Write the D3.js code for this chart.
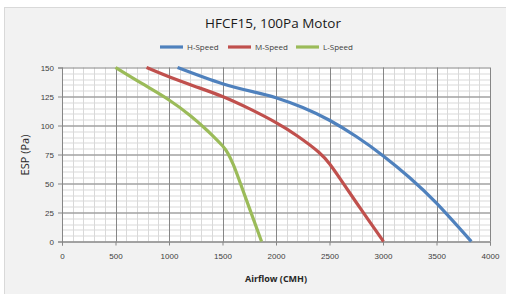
<!DOCTYPE html>
<html>
<head>
<meta charset="utf-8">
<title>HFCF15 Fan Curve</title>
<script src="https://cdn.jsdelivr.net/npm/d3@7"></script>
<style>
    body{ margin:0; background:#fff; font-family:"Open Sans", "Liberation Sans", sans-serif; }
    .minor line{ stroke:#d9d9d9; stroke-width:1; }
    .major line{ stroke:#868686; stroke-width:1; }
    .tick text{ font-size:8px; fill:#404040; }
</style>
</head>
<body>
<svg width="506" height="294"></svg>
<script>
// data (airflow CMH, ESP Pa)
var seriesNames = ["H-Speed", "M-Speed", "L-Speed"];
var seriesColors = ["#4f81bd", "#c0504d", "#9bbb59"];
var hSpeed = [[1080,150],[1500,136],[1800,128.8],[2000,124],[2250,115.5],[2500,104.5],[2750,90.5],[3000,74],[3250,55],[3500,33],[3825,0]];
var mSpeed = [[790,150],[1000,142],[1250,133.5],[1500,125],[1750,114.5],[2000,102.5],[2200,91],[2400,77],[2500,67],[2600,54],[2800,27],[3005,0]];
var lSpeed = [[500,150],[750,136],[1000,122],[1200,108.5],[1300,100.5],[1400,92],[1500,82.5],[1550,76],[1600,66.5],[1650,54.5],[1770,24],[1865,0]];
var xTicks = [0,500,1000,1500,2000,2500,3000,3500,4000];
var yTicks = [0,25,50,75,100,125,150];

var svg = d3.select("svg");
var margin = {left:62, right:16, top:67.5, bottom:52.5};
var width = 506 - margin.left - margin.right,
    height = 294 - margin.top - margin.bottom;

// chart background + border
svg.append("rect").attr("x",4.5).attr("y",7.5).attr("width",520).attr("height",300)
    .attr("fill","#f2f2f2").attr("stroke","#d9d9d9");

var x = d3.scaleLinear().domain([0,4000]).range([0,width]);
var y = d3.scaleLinear().domain([0,150]).range([height,0]);

var g = svg.append("g").attr("transform","translate("+margin.left+","+margin.top+")");
g.append("rect").attr("width",width).attr("height",height).attr("fill","#fff");

// minor grid
g.append("g").attr("class","minor")
    .selectAll("line").data(d3.range(100,4000,100)).enter().append("line")
    .attr("x1",d=>Math.round(x(d))+0.5).attr("x2",d=>Math.round(x(d))+0.5).attr("y1",0).attr("y2",height);
g.append("g").attr("class","minor")
    .selectAll("line").data(d3.range(5,150,5)).enter().append("line")
    .attr("y1",d=>Math.round(y(d))+0.5).attr("y2",d=>Math.round(y(d))+0.5).attr("x1",0).attr("x2",width);
// major grid
g.append("g").attr("class","major")
    .selectAll("line").data(xTicks).enter().append("line")
    .attr("x1",d=>Math.round(x(d))+0.5).attr("x2",d=>Math.round(x(d))+0.5).attr("y1",0).attr("y2",height);
g.append("g").attr("class","major")
    .selectAll("line").data(yTicks).enter().append("line")
    .attr("y1",d=>Math.round(y(d))+0.5).attr("y2",d=>Math.round(y(d))+0.5).attr("x1",0).attr("x2",width);

// axes
var xAxis = g.append("g").attr("transform","translate(0,"+height+")")
    .call(d3.axisBottom(x).tickValues(xTicks).tickFormat(d3.format("d")).tickSize(4).tickPadding(8));
var yAxis = g.append("g")
    .call(d3.axisLeft(y).tickValues(yTicks).tickFormat(d3.format("d")).tickSize(4).tickPadding(4));
[xAxis, yAxis].forEach(function(a){
    a.select(".domain").attr("stroke","#868686");
    a.selectAll(".tick line").attr("stroke","#868686");
});

// lines
var line = d3.line().x(d=>x(d[0])).y(d=>y(d[1])).curve(d3.curveNatural);
[hSpeed, mSpeed, lSpeed].forEach(function(s,i){
    g.append("path").datum(s).attr("fill","none")
        .attr("stroke",seriesColors[i]).attr("stroke-width",3.2)
        .attr("stroke-linejoin","round")
        .attr("d",line);
});

// title
svg.append("text").attr("x",273).attr("y",28).attr("text-anchor","middle")
    .attr("font-size",13.5).attr("fill","#1a1a1a").text("HFCF15, 100Pa Motor");

// legend
var legendX = [160, 228, 296];
seriesNames.forEach(function(n,i){
    svg.append("line").attr("x1",legendX[i]).attr("x2",legendX[i]+23)
        .attr("y1",47).attr("y2",47).attr("stroke",seriesColors[i]).attr("stroke-width",3.2);
    svg.append("text").attr("x",legendX[i]+27).attr("y",50).attr("font-size",8)
        .attr("fill","#404040").text(n);
});

// axis titles
svg.append("text").attr("x",276).attr("y",282).attr("text-anchor","middle")
    .attr("font-size",9).attr("font-weight","bold").attr("fill","#262626").text("Airflow (CMH)");
svg.append("text").attr("transform","translate(29,155) rotate(-90)").attr("text-anchor","middle")
    .attr("font-size",11).attr("fill","#262626").text("ESP (Pa)");
</script>
</body>
</html>
